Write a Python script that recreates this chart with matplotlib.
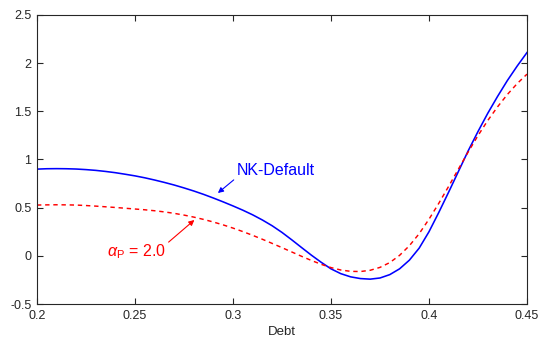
import matplotlib
matplotlib.use("Agg")
import matplotlib.pyplot as plt

plt.rcParams['font.family'] = ['Liberation Sans', 'DejaVu Sans']
plt.rcParams['mathtext.fontset'] = 'custom'
plt.rcParams['mathtext.rm'] = 'Liberation Sans'
plt.rcParams['mathtext.it'] = 'Liberation Sans:italic'

debt = [0.200, 0.205, 0.210, 0.215, 0.220, 0.225, 0.230, 0.235, 0.240, 0.245,
        0.250, 0.255, 0.260, 0.265, 0.270, 0.275, 0.280, 0.285, 0.290, 0.295,
        0.300, 0.305, 0.310, 0.315, 0.320, 0.325, 0.330, 0.335, 0.340, 0.345,
        0.350, 0.355, 0.360, 0.365, 0.370, 0.375, 0.380, 0.385, 0.390, 0.395,
        0.400, 0.405, 0.410, 0.415, 0.420, 0.425, 0.430, 0.435, 0.440, 0.445,
        0.450]
nk_default = [0.900, 0.904, 0.905, 0.904, 0.901, 0.895, 0.887, 0.876, 0.863, 0.847,
              0.830, 0.810, 0.787, 0.762, 0.735, 0.705, 0.673, 0.638, 0.600, 0.560,
              0.518, 0.474, 0.426, 0.372, 0.312, 0.243, 0.166, 0.086, 0.007, -0.067,
              -0.135, -0.185, -0.218, -0.236, -0.242, -0.230, -0.195, -0.135, -0.045, 0.080,
              0.250, 0.450, 0.660, 0.875, 1.090, 1.290, 1.480, 1.655, 1.820, 1.970,
              2.110]
alpha_p2 = [0.527, 0.529, 0.530, 0.529, 0.527, 0.522, 0.516, 0.509, 0.502, 0.494,
            0.486, 0.478, 0.468, 0.456, 0.441, 0.423, 0.402, 0.378, 0.351, 0.321,
            0.288, 0.252, 0.213, 0.172, 0.129, 0.085, 0.040, -0.005, -0.048, -0.088,
            -0.122, -0.147, -0.161, -0.163, -0.150, -0.120, -0.070, 0.005, 0.105, 0.230,
            0.380, 0.545, 0.720, 0.900, 1.078, 1.248, 1.405, 1.547, 1.675, 1.788,
            1.886]

xticks = [0.2, 0.25, 0.3, 0.35, 0.4, 0.45]
xticklabels = ['0.2', '0.25', '0.3', '0.35', '0.4', '0.45']
yticks = [-0.5, 0, 0.5, 1, 1.5, 2, 2.5]
yticklabels = ['-0.5', '0', '0.5', '1', '1.5', '2', '2.5']

fig = plt.figure(figsize=(5.39, 3.43), dpi=100)
ax = fig.add_axes([0.0686, 0.1137, 0.9091, 0.8426])

ax.plot(debt, nk_default, color='#0000ff', lw=1.15)
ax.plot(debt, alpha_p2, color='#ff0000', lw=1.05, ls=(0, (3, 2.6)))

ax.set_xlim(0.2, 0.45)
ax.set_ylim(-0.5, 2.5)
ax.set_xticks(xticks)
ax.set_xticklabels(xticklabels)
ax.set_yticks(yticks)
ax.set_yticklabels(yticklabels)
ax.tick_params(direction='in', length=4, width=0.8, top=True, right=True,
               labelsize=9, colors='#262626', pad=4)
for s in ax.spines.values():
    s.set_color('#262626')
    s.set_linewidth(0.8)
ax.set_xlabel('Debt', fontsize=9.5, color='#262626', labelpad=3)

ax.annotate('NK-Default', xy=(0.2923, 0.652), xytext=(0.3018, 0.89),
            color='#0000ff', fontsize=11.5, va='center', ha='left',
            arrowprops=dict(arrowstyle='-|>', color='#0000ff', lw=0.8,
                            mutation_scale=8, shrinkA=0, shrinkB=0,
                            relpos=(0.0, 0.0)))
ax.annotate(r'$\alpha_{\mathrm{P}}$ = 2.0', xy=(0.2803, 0.372), xytext=(0.2357, 0.04),
            color='#ff0000', fontsize=11.5, va='center', ha='left',
            arrowprops=dict(arrowstyle='-|>', color='#ff0000', lw=0.8,
                            mutation_scale=8, shrinkA=0, shrinkB=0,
                            relpos=(1.0, 0.9)))

fig.savefig('out.png', dpi=100)
